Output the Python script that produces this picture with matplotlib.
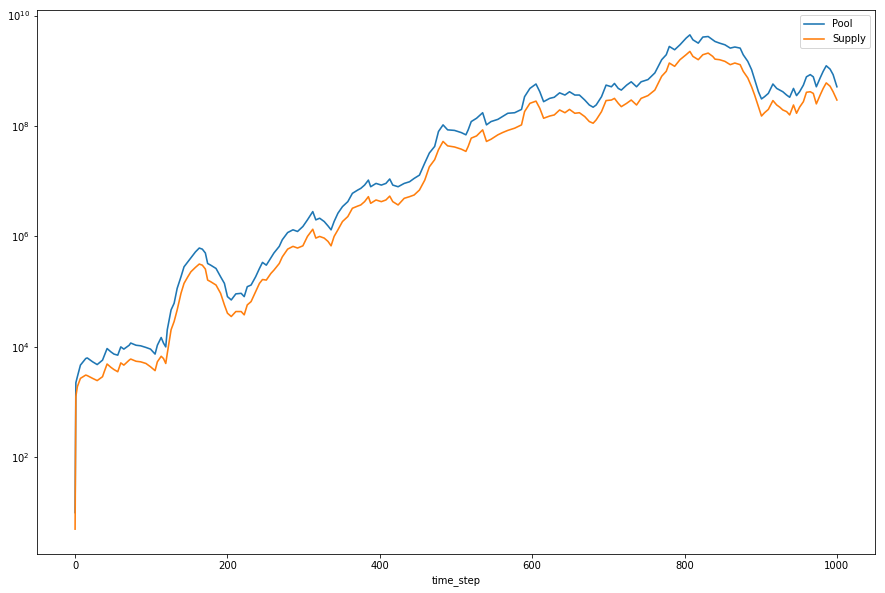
import matplotlib
matplotlib.use("Agg")
import matplotlib.pyplot as plt
from matplotlib.ticker import NullLocator
import numpy as np

time_step = [0, 1, 3, 7, 14, 16, 23, 29, 36, 38, 42, 47, 51, 56, 60, 64, 71, 73, 80, 86,
             93, 99, 105, 108, 113, 116, 119, 121, 126, 130, 134, 139, 143, 148, 152, 158,
             163, 167, 171, 174, 178, 185, 191, 196, 200, 205, 211, 218, 222, 226, 231,
             237, 242, 246, 251, 257, 261, 268, 272, 279, 286, 292, 299, 305, 312, 316,
             321, 327, 332, 336, 340, 345, 351, 358, 364, 371, 375, 380, 385, 388, 395,
             402, 408, 413, 417, 424, 432, 439, 445, 452, 459, 465, 472, 477, 483, 489,
             498, 507, 513, 516, 520, 527, 535, 540, 546, 555, 561, 568, 577, 586, 590,
             597, 605, 610, 615, 623, 629, 636, 643, 649, 656, 662, 669, 675, 680, 684,
             691, 697, 704, 708, 713, 717, 724, 730, 737, 743, 752, 761, 770, 776, 780,
             787, 794, 802, 807, 811, 818, 824, 831, 837, 840, 846, 853, 860, 866, 873,
             877, 883, 888, 892, 897, 901, 905, 910, 916, 921, 925, 929, 934, 938, 943,
             947, 951, 956, 960, 965, 969, 973, 978, 982, 986, 991, 995, 1000]

# log10 of the values
pool_log10 = [1.00, 3.35, 3.46, 3.67, 3.79, 3.80, 3.73, 3.68, 3.76, 3.83, 3.97, 3.91, 3.87,
              3.85, 4.00, 3.96, 4.03, 4.07, 4.03, 4.02, 3.99, 3.96, 3.87, 4.03, 4.17, 4.07,
              4.00, 4.31, 4.67, 4.79, 5.06, 5.27, 5.45, 5.54, 5.61, 5.72, 5.79, 5.77, 5.70,
              5.51, 5.48, 5.42, 5.27, 5.15, 4.91, 4.85, 4.96, 4.97, 4.91, 5.09, 5.12, 5.27,
              5.42, 5.53, 5.48, 5.61, 5.70, 5.82, 5.94, 6.07, 6.12, 6.09, 6.18, 6.30, 6.45,
              6.30, 6.33, 6.27, 6.19, 6.12, 6.27, 6.42, 6.54, 6.63, 6.78, 6.84, 6.87, 6.93,
              7.02, 6.90, 6.96, 6.93, 6.96, 7.04, 6.93, 6.90, 6.96, 6.99, 7.05, 7.11, 7.33,
              7.51, 7.63, 7.90, 8.02, 7.93, 7.92, 7.88, 7.84, 7.93, 8.08, 8.14, 8.24, 8.02,
              8.08, 8.12, 8.17, 8.23, 8.24, 8.30, 8.53, 8.68, 8.76, 8.62, 8.44, 8.50, 8.52,
              8.60, 8.56, 8.62, 8.56, 8.56, 8.47, 8.38, 8.34, 8.38, 8.53, 8.74, 8.71, 8.77,
              8.68, 8.65, 8.74, 8.80, 8.71, 8.80, 8.84, 8.96, 9.20, 9.29, 9.44, 9.38, 9.47,
              9.59, 9.65, 9.56, 9.50, 9.61, 9.62, 9.56, 9.53, 9.50, 9.47, 9.41, 9.43, 9.41,
              9.29, 9.17, 9.02, 8.84, 8.62, 8.49, 8.53, 8.59, 8.76, 8.68, 8.65, 8.62, 8.56,
              8.52, 8.68, 8.55, 8.62, 8.74, 8.89, 8.93, 8.89, 8.71, 8.87, 8.99, 9.09, 9.03,
              8.93, 8.71]

supply_log10 = [0.70, 3.10, 3.28, 3.43, 3.49, 3.48, 3.43, 3.39, 3.46, 3.54, 3.69, 3.63, 3.59,
                3.55, 3.71, 3.67, 3.76, 3.78, 3.74, 3.73, 3.70, 3.64, 3.57, 3.73, 3.83, 3.79,
                3.70, 3.88, 4.31, 4.46, 4.67, 4.97, 5.15, 5.27, 5.36, 5.44, 5.50, 5.48, 5.41,
                5.21, 5.18, 5.12, 4.97, 4.76, 4.61, 4.55, 4.64, 4.64, 4.58, 4.76, 4.82, 5.00,
                5.15, 5.22, 5.21, 5.33, 5.39, 5.51, 5.63, 5.77, 5.82, 5.79, 5.83, 6.00, 6.13,
                5.97, 6.00, 5.97, 5.91, 5.83, 6.00, 6.12, 6.27, 6.36, 6.51, 6.55, 6.57, 6.63,
                6.72, 6.60, 6.66, 6.63, 6.66, 6.73, 6.63, 6.57, 6.69, 6.72, 6.75, 6.84, 7.02,
                7.26, 7.39, 7.57, 7.72, 7.64, 7.62, 7.58, 7.54, 7.63, 7.78, 7.82, 7.93, 7.72,
                7.76, 7.84, 7.88, 7.92, 7.96, 8.02, 8.26, 8.41, 8.45, 8.32, 8.14, 8.18, 8.20,
                8.29, 8.24, 8.30, 8.23, 8.24, 8.17, 8.08, 8.05, 8.11, 8.26, 8.46, 8.47, 8.50,
                8.41, 8.35, 8.41, 8.47, 8.38, 8.50, 8.55, 8.65, 8.90, 8.99, 9.14, 9.08, 9.20,
                9.29, 9.35, 9.26, 9.20, 9.29, 9.32, 9.26, 9.21, 9.20, 9.17, 9.11, 9.14, 9.11,
                8.99, 8.87, 8.71, 8.56, 8.35, 8.18, 8.24, 8.30, 8.46, 8.38, 8.34, 8.29, 8.26,
                8.20, 8.38, 8.23, 8.34, 8.44, 8.61, 8.62, 8.59, 8.40, 8.56, 8.68, 8.78, 8.72,
                8.62, 8.47]

y_ticks = [1e2, 1e4, 1e6, 1e8, 1e10]
x_ticks = [0, 200, 400, 600, 800, 1000]

pool = np.power(10.0, pool_log10)
supply = np.power(10.0, supply_log10)

fig = plt.figure(figsize=(885 / 72, 593 / 72), dpi=72)
ax = fig.add_axes([37 / 885, 1 - 554 / 593, (875 - 37) / 885, (554 - 10) / 593])
ax.plot(time_step, pool, color="#1f77b4", linewidth=1.6, label="Pool")
ax.plot(time_step, supply, color="#ff7f0e", linewidth=1.6, label="Supply")
ax.set_yscale("log")
ax.set_xlim(-50, 1050)
ax.set_ylim(10 ** 0.25, 10 ** 10.1)
ax.set_yticks(y_ticks)
ax.yaxis.set_minor_locator(NullLocator())
ax.set_xticks(x_ticks)
ax.set_xlabel("time_step")
ax.legend(loc="upper right")
fig.savefig("out.png", dpi=72)
